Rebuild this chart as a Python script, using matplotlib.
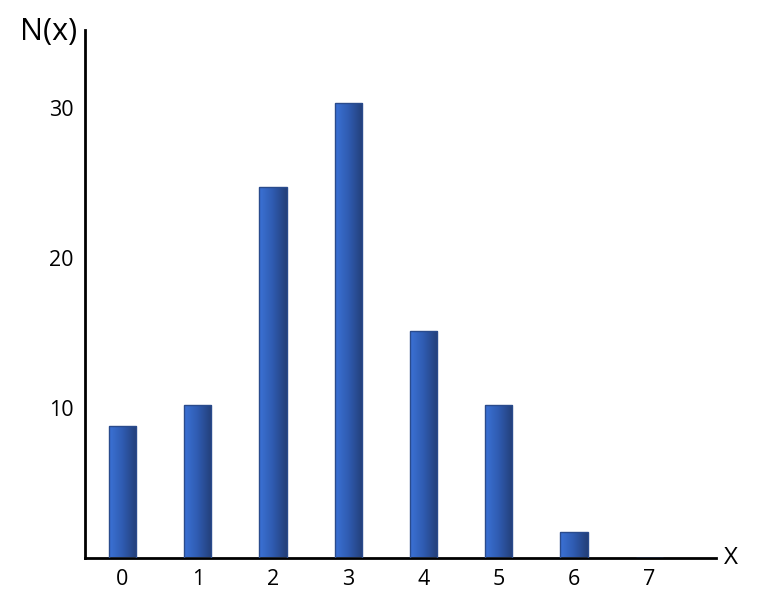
import numpy as np
import matplotlib
matplotlib.use("Agg")
import matplotlib.pyplot as plt
from matplotlib.colors import LinearSegmentedColormap

categories = [0, 1, 2, 3, 4, 5, 6, 7]
values = [8.8, 10.2, 24.7, 30.3, 15.1, 10.2, 1.7, 0.0]
yticks = [10, 20, 30]

plt.rcParams['font.family'] = ['Open Sans', 'DejaVu Sans']

fig = plt.figure(figsize=(7.6, 6.07), dpi=100)
W, H = 760, 607
ax = fig.add_axes([85 / W, 1 - 557.5 / H, (716 - 85) / W, (557.5 - 30) / H])

ax.set_xlim(-0.498, 7.887)
ax.set_ylim(0, 35.17)

cmap = LinearSegmentedColormap.from_list("g", ["#3b72d6", "#2f5bb0", "#233f78"])
grad = np.linspace(0, 1, 256).reshape(1, -1)

bars = ax.bar(categories, values, width=0.36, facecolor="none",
              edgecolor="#2a4b8c", linewidth=1.0, zorder=3)
for b in bars:
    if b.get_height() <= 0:
        continue
    x0, y0 = b.get_x(), b.get_y()
    w, h = b.get_width(), b.get_height()
    im = ax.imshow(grad, cmap=cmap, aspect="auto",
                   extent=[x0, x0 + w, y0, y0 + h], zorder=2)
    im.set_clip_path(b)

ax.spines['top'].set_visible(False)
ax.spines['right'].set_visible(False)
for s in ['left', 'bottom']:
    ax.spines[s].set_linewidth(2)
    ax.spines[s].set_color('black')

ax.set_xticks(categories)
ax.set_xticklabels([str(c) for c in categories])
ax.set_yticks(yticks)
ax.set_yticklabels([str(t) for t in yticks])
ax.tick_params(axis='both', length=0, labelsize=15.5, colors='black')
ax.tick_params(axis='x', pad=8)
ax.tick_params(axis='y', pad=8.5)

fig.text(77 / W, 1 - 32 / H, "N(x)", ha='right', va='center', fontsize=22)
fig.text(724 / W, 1 - 558 / H, "X", ha='left', va='center', fontsize=17.5)

fig.savefig("out.png", dpi=100)
